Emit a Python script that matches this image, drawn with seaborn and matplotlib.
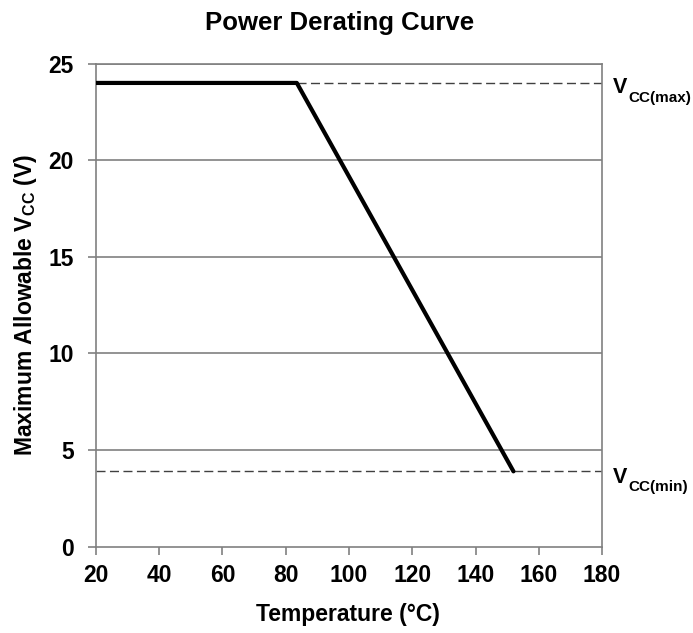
import matplotlib
matplotlib.use("Agg")
import matplotlib.pyplot as plt
import seaborn as sns
import pandas as pd

# Data
temperature = [20, 83.5, 152]
vcc_allowed = [24, 24, 3.9]
vcc_max = 24
vcc_min = 3.9
vcc_max_start = 83.5
x_ticks = [20, 40, 60, 80, 100, 120, 140, 160, 180]
y_ticks = [0, 5, 10, 15, 20, 25]

sns.set_style("white")
plt.rcParams['font.family'] = ['Liberation Sans', 'DejaVu Sans']
plt.rcParams['font.weight'] = 'bold'
plt.rcParams['text.color'] = 'black'
plt.rcParams['axes.labelcolor'] = 'black'
plt.rcParams['xtick.color'] = 'black'
plt.rcParams['ytick.color'] = 'black'
plt.rcParams['mathtext.fontset'] = 'custom'
plt.rcParams['mathtext.rm'] = 'Liberation Sans:bold'
plt.rcParams['mathtext.it'] = 'Liberation Sans:bold'
plt.rcParams['mathtext.bf'] = 'Liberation Sans:bold'
plt.rcParams['mathtext.default'] = 'bf'

fig = plt.figure(figsize=(6.93, 6.33), dpi=100)
ax = fig.add_axes([0.1385, 0.1363, 0.8687 - 0.1385, 0.8995 - 0.1363])

df = pd.DataFrame({"Temperature": temperature, "Vcc": vcc_allowed})

grid_c = "#808080"
for y in y_ticks[1:]:
    ax.axhline(y, color=grid_c, lw=1.2, zorder=1)

dash = (0, (6.5, 3.2))
ax.plot([vcc_max_start, 180], [vcc_max, vcc_max], ls=dash, color="#404040", lw=1.0, zorder=2)
ax.plot([20, 180], [vcc_min, vcc_min], ls=dash, color="#404040", lw=1.0, zorder=2)

sns.lineplot(data=df, x="Temperature", y="Vcc", color="black", lw=3.0, ax=ax, zorder=3, sort=False)

ax.set_xlim(20, 180)
ax.set_ylim(0, 25)
ax.set_xticks(x_ticks)
ax.set_yticks(y_ticks)
ax.tick_params(axis='both', direction='out', length=6, width=1.2, color=grid_c,
               labelsize=16.5, bottom=True, left=True, labelcolor='black')
ax.tick_params(axis='x', pad=6.5)
ax.tick_params(axis='y', pad=10)
for lab in ax.get_xticklabels() + ax.get_yticklabels():
    lab.set_fontweight('bold')
for s in ax.spines.values():
    s.set_color(grid_c)
    s.set_linewidth(1.2)

ax.set_title("Power Derating Curve", fontsize=18.5, fontweight='bold', pad=24, x=0.482)
ax.set_xlabel("Temperature (°C)", fontsize=16.5, fontweight='bold')
ax.set_ylabel(r"Maximum Allowable V$_{CC}$ (V)", fontsize=16.5, fontweight='bold')
ax.xaxis.set_label_coords(0.497, -0.141)
ax.xaxis.label.set_va('center')
ax.yaxis.set_label_coords(-0.140, 0.5)
ax.yaxis.label.set_va('center')

for val, sub, dv, ds in [(vcc_max, "CC(max)", -3.0, -8.0), (vcc_min, "CC(min)", -4.5, -7.0)]:
    vt = ax.annotate("V", xy=(1.0, val), xycoords=ax.get_yaxis_transform(),
                     xytext=(8, dv), textcoords='offset points',
                     fontsize=15.5, fontweight='bold', va='center', ha='left', annotation_clip=False)
    ax.annotate(sub, xy=(1.0, 0.5), xycoords=vt, xytext=(0.3, ds), textcoords='offset points',
                fontsize=11, fontweight='bold', va='center', ha='left', annotation_clip=False)

fig.savefig("out.png", dpi=100)
